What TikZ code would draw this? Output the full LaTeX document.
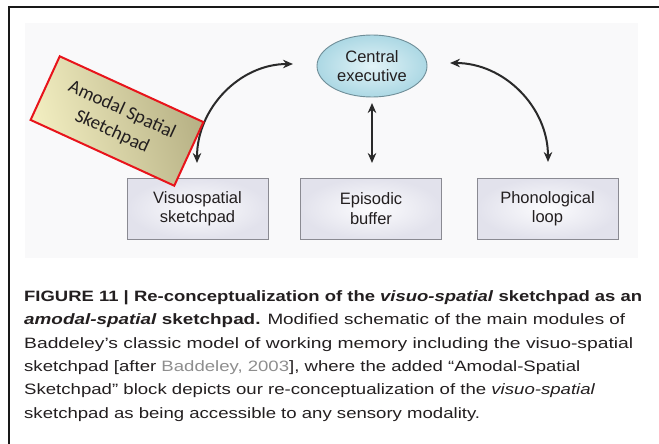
\documentclass[tikz,border=0pt]{standalone}
\usepackage{fontspec}
\usepackage{graphicx}
\setmainfont{Liberation Sans}
\newfontfamily\capfont{Liberation Sans}
\newfontfamily\amfont{Carlito}
\usetikzlibrary{arrows.meta,shapes.geometric}
\definecolor{panelbg}{HTML}{F9F9FA}
\definecolor{boxedge}{HTML}{8A8A92}
\definecolor{boxin}{HTML}{FCFCFE}
\definecolor{boxout}{HTML}{E2E2EC}
\definecolor{ellin}{HTML}{E2F3F7}
\definecolor{ellout}{HTML}{ACD8E4}
\definecolor{elledge}{HTML}{6F8E98}
\definecolor{arrcol}{HTML}{2A2A2A}
\definecolor{amlight}{HTML}{F3EFC2}
\definecolor{amdark}{HTML}{B6B084}
\definecolor{amred}{HTML}{E8141B}
\definecolor{txt}{HTML}{231F20}
\definecolor{linkgray}{HTML}{8E8E8E}
\newcommand{\capw}[2]{\resizebox{#1pt}{\height}{#2}}
\tikzset{
  modbox/.style={draw=boxedge, line width=0.9pt, inner color=boxin, outer color=boxout,
    minimum width=141pt, minimum height=61pt, align=center, text=txt,
    font=\fontsize{16.5}{19.5}\selectfont},
  arr/.style={draw=arrcol, line width=2pt, {Stealth[length=10pt,width=8.5pt]}-{Stealth[length=10pt,width=8.5pt]}},
  capline/.style={anchor=base west, inner sep=0pt, text=txt, font=\capfont\fontsize{15}{18}\selectfont},
}
\begin{document}
\begin{tikzpicture}[x=1pt,y=-1pt]
\useasboundingbox (0,0) rectangle (659,444);
\fill[white] (0,0) rectangle (659,444);
\draw[line width=2pt, black!90] (8.5,444) -- (8.5,7.5) -- (659,7.5);
\fill[panelbg] (25,23) rectangle (638,258);

\node[modbox] (vis) at (197.5,208.5) {Visuospatial\\sketchpad};
\node[modbox] (epi) at (371,208.5) {Episodic\\buffer};
\node[modbox] (pho) at (547.5,208.5) {Phonological\\loop};

\node[ellipse, draw=elledge, line width=0.9pt, inner color=ellin, outer color=ellout,
  minimum width=110pt, minimum height=62pt, inner sep=0pt, align=center, text=txt,
  font=\fontsize{16.5}{18.5}\selectfont] (ce) at (372,66) {Central\\executive};

\coordinate (la) at (197,163);
\coordinate (lb) at (293,64);
\coordinate (ma) at (372,103);
\coordinate (mb) at (372,163);
\coordinate (ra) at (450,63);
\coordinate (rb) at (548,162);
\draw[arr] (la) .. controls (197,108) and (240,64) .. (lb);
\draw[arr] (ma) -- (mb);
\draw[arr] (ra) .. controls (504,63) and (548,107) .. (rb);

\node[draw=amred, line width=2pt, left color=amlight, right color=amdark, shading angle=105,
  rotate=-24.6, minimum width=158pt, minimum height=70pt, inner sep=0pt, align=center,
  text=txt, font=\amfont\fontsize{19}{24}\selectfont] (amod) at (117,121) {Amodal Spatial\\Sketchpad};

\node[capline] (c1) at (24,301.5) {\capw{618}{\bfseries FIGURE 11 | Re-conceptualization of the \textit{visuo-spatial} sketchpad as an}};
\node[capline] (c2) at (24,324.8) {\capw{601}{\textbf{\textit{amodal-spatial} sketchpad.} Modified schematic of the main modules of}};
\node[capline] (c3) at (24,348.1) {\capw{609}{Baddeley’s classic model of working memory including the visuo-spatial}};
\node[capline] (c4) at (24,371.4) {\capw{556}{sketchpad [after \textcolor{linkgray}{Baddeley, 2003}], where the added “Amodal-Spatial}};
\node[capline] (c5) at (24,394.7) {\capw{571}{Sketchpad” block depicts our re-conceptualization of the \textit{visuo-spatial}}};
\node[capline] (c6) at (24,418) {\capw{456}{sketchpad as being accessible to any sensory modality.}};
\end{tikzpicture}
\end{document}
